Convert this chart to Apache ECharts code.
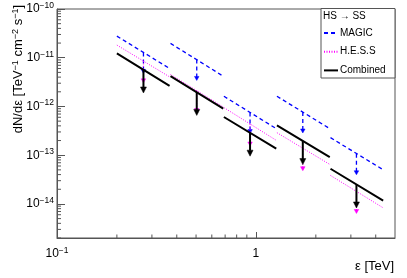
<!DOCTYPE html>
<html><head><meta charset="utf-8">
<script src="https://cdn.jsdelivr.net/npm/echarts@6/dist/echarts.min.js"></script>
<style>html,body{margin:0;padding:0;background:#fff}#c{width:407px;height:278px}</style>
</head><body><div id="c"></div>
<script>
// Energy bins [TeV]
const binLo  = [0.2, 0.372, 0.69, 1.275, 2.37];
const binHi  = [0.368, 0.685, 1.265, 2.35, 4.36];
const binMid = [0.272, 0.504, 0.934, 1.72, 3.2];
// Upper limits dN/dE [TeV^-1 cm^-2 s^-1] at bin low edge, high edge and centre
const magicLo = [2.78e-11, 1.97e-11, 1.62e-12, 1.62e-12, 2.29e-13];
const magicHi = [6.02e-12, 4.18e-12, 3.51e-13, 3.51e-13, 5.03e-14];
const magicUL = [1.285e-11, 9.23e-12, 7.49e-13, 7.7e-13, 1.07e-13];
const hessLo  = [1.82e-11, 4.53e-12, 9.49e-13, 2.90e-13, 3.84e-14];
const hessHi  = [4.05e-12, 9.77e-13, 2.02e-13, 6.47e-14, 8.32e-15];
const hessUL  = [8.63e-12, 2.12e-12, 4.37e-13, 1.36e-13, 1.80e-14];
const combLo  = [1.226e-11, 4.18e-12, 6.08e-13, 4.10e-13, 5.27e-14];
const combHi  = [2.64e-12, 9.05e-13, 1.36e-13, 9.14e-14, 1.175e-14];
const combUL  = [5.74e-12, 1.99e-12, 2.90e-13, 1.95e-13, 2.51e-14];
// Axes
const xMin = 0.1, xMax = 5, yMin = 2e-15, yMax = 1e-10;
const xMinorTicks = [0.2,0.3,0.4,0.5,0.6,0.7,0.8,0.9,2,3,4];
const minorMult = [2,3,4,5,6,7,8,9];
const yDecades = [-15,-14,-13,-12,-11];
const yMinorTicks = [];
yDecades.forEach(d => minorMult.forEach(m => { const v = m * Math.pow(10, d); if (v >= yMin && v <= yMax) yMinorTicks.push(v); }));
const legendNames = ['MAGIC', 'H.E.S.S', 'Combined'];
const legendHeader = 'HS \u2192 SS';
const xTitle = '\u03b5 [TeV]';

const FONT = 'Liberation Sans, Arial, Helvetica, sans-serif';
const AX = '#555';

function segData(lo, hi) {
  const d = [];
  for (let i = 0; i < lo.length; i++) {
    d.push([binLo[i], lo[i]], [binHi[i], hi[i]], [binHi[i], '-']);
  }
  return d;
}
function arrowSeries(ul, color, lw, dash, len, hw, hh, z) {
  return {
    type: 'custom', silent: true, z: z,
    data: binMid.map((e, i) => [e, ul[i]]),
    renderItem: function (params, api) {
      const p = api.coord([api.value(0), api.value(1)]);
      const tip = p[1] + len;
      return { type: 'group', children: [
        { type: 'line', shape: { x1: p[0], y1: p[1], x2: p[0], y2: tip - hh + 0.5 },
          style: { stroke: color, lineWidth: lw, lineDash: dash } },
        { type: 'polygon', shape: { points: [[p[0] - hw / 2, tip - hh], [p[0] + hw / 2, tip - hh], [p[0], tip]] },
          style: { fill: color, stroke: color, lineWidth: 0.5 } }
      ] };
    }
  };
}
function supFmt(v) {
  const e = Math.round(Math.log10(v));
  if (e === 0) return '{b|1}';
  return '{b|10}{s|\u2212' + Math.abs(e) + '}';
}
const rich = {
  b: { fontSize: 12, fontFamily: FONT, color: '#000', lineHeight: 16 },
  s: { fontSize: 8.5, fontFamily: FONT, color: '#000', lineHeight: 9, verticalAlign: 'top' }
};

const chart = echarts.init(document.getElementById('c'), null, { renderer: 'canvas' });
chart.setOption({
  animation: false,
  backgroundColor: '#fff',
  grid: { left: 57, top: 9, right: 12, bottom: 40, show: true, borderColor: AX, borderWidth: 1, backgroundColor: 'transparent' },
  xAxis: {
    type: 'log', min: xMin, max: xMax, logBase: 10,
    axisLine: { lineStyle: { color: AX } },
    axisTick: { inside: true, length: 6, lineStyle: { color: AX } },
    splitLine: { show: false },
    axisLabel: { formatter: supFmt, rich: rich, margin: 8, showMaxLabel: false }
  },
  yAxis: {
    type: 'log', min: yMin, max: yMax, logBase: 10,
    axisLine: { lineStyle: { color: AX } },
    axisTick: { inside: true, length: 8, lineStyle: { color: AX } },
    splitLine: { show: false },
    axisLabel: { formatter: supFmt, rich: rich, margin: 3, showMinLabel: false }
  },
  legend: {
    data: legendNames, orient: 'vertical', left: 323, top: 28, padding: 0,
    itemWidth: 14, itemHeight: 12, itemGap: 8.7,
    itemStyle: { opacity: 0 },
    textStyle: { fontSize: 10, fontFamily: FONT, color: '#000', padding: [0, 0, 0, -3] }
  },
  graphic: [
    { type: 'rect', z: 3, shape: { x: 321, y: 8.5, width: 74, height: 69.5 },
      style: { fill: '#fff', stroke: AX, lineWidth: 1 } },
    { type: 'text', z: 5, x: 323, y: 16.7,
      style: { text: legendHeader, font: '10px ' + FONT, fill: '#000', verticalAlign: 'middle' } },
    { type: 'text', z: 5, x: 394, y: 266,
      style: { text: xTitle, font: '13px ' + FONT, fill: '#000', align: 'right', verticalAlign: 'middle' } },
    { type: 'text', z: 5, x: 18, y: 5, rotation: Math.PI / 2,
      style: { text: 'dN/d\u03b5 [TeV{s|\u22121} cm{s|\u22122} s{s|\u22121}]', font: '13px ' + FONT, fill: '#000',
        align: 'right', verticalAlign: 'middle',
        rich: { s: { fontSize: 9, fontFamily: FONT, fill: '#000', verticalAlign: 'top', lineHeight: 9 } } } }
  ],
  series: [
    { type: 'custom', silent: true, z: 1, data: xMinorTicks.map(v => [v, yMin]),
      renderItem: function (params, api) {
        const p = api.coord([api.value(0), yMin]);
        return { type: 'line', shape: { x1: p[0], y1: p[1], x2: p[0], y2: p[1] - 3.5 }, style: { stroke: AX, lineWidth: 1 } };
      } },
    { type: 'custom', silent: true, z: 1, data: yMinorTicks.map(v => [xMin, v]),
      renderItem: function (params, api) {
        const p = api.coord([xMin, api.value(1)]);
        return { type: 'line', shape: { x1: p[0], y1: p[1], x2: p[0] + 4, y2: p[1] }, style: { stroke: AX, lineWidth: 1 } };
      } },
    { name: 'MAGIC', type: 'line', z: 2, symbol: 'none', connectNulls: false, data: segData(magicLo, magicHi),
      lineStyle: { color: '#0000ff', width: 1.3, type: [4, 3] }, itemStyle: { color: '#0000ff' } },
    arrowSeries(magicUL, '#0000ff', 1.3, [4, 3], 21, 4.5, 4, 2),
    { name: 'H.E.S.S', type: 'line', z: 3, symbol: 'none', connectNulls: false, data: segData(hessLo, hessHi),
      lineStyle: { color: '#ff00ff', width: 1, type: [1, 1.5] }, itemStyle: { color: '#ff00ff' } },
    arrowSeries(hessUL, '#ff00ff', 1, [1, 1.5], 22, 4.5, 4, 3),
    { name: 'Combined', type: 'line', z: 4, symbol: 'none', connectNulls: false, data: segData(combLo, combHi),
      lineStyle: { color: '#000', width: 2 }, itemStyle: { color: '#000' } },
    arrowSeries(combUL, '#000', 2, null, 23.5, 6, 6, 4)
  ]
});
</script>
</body></html>
